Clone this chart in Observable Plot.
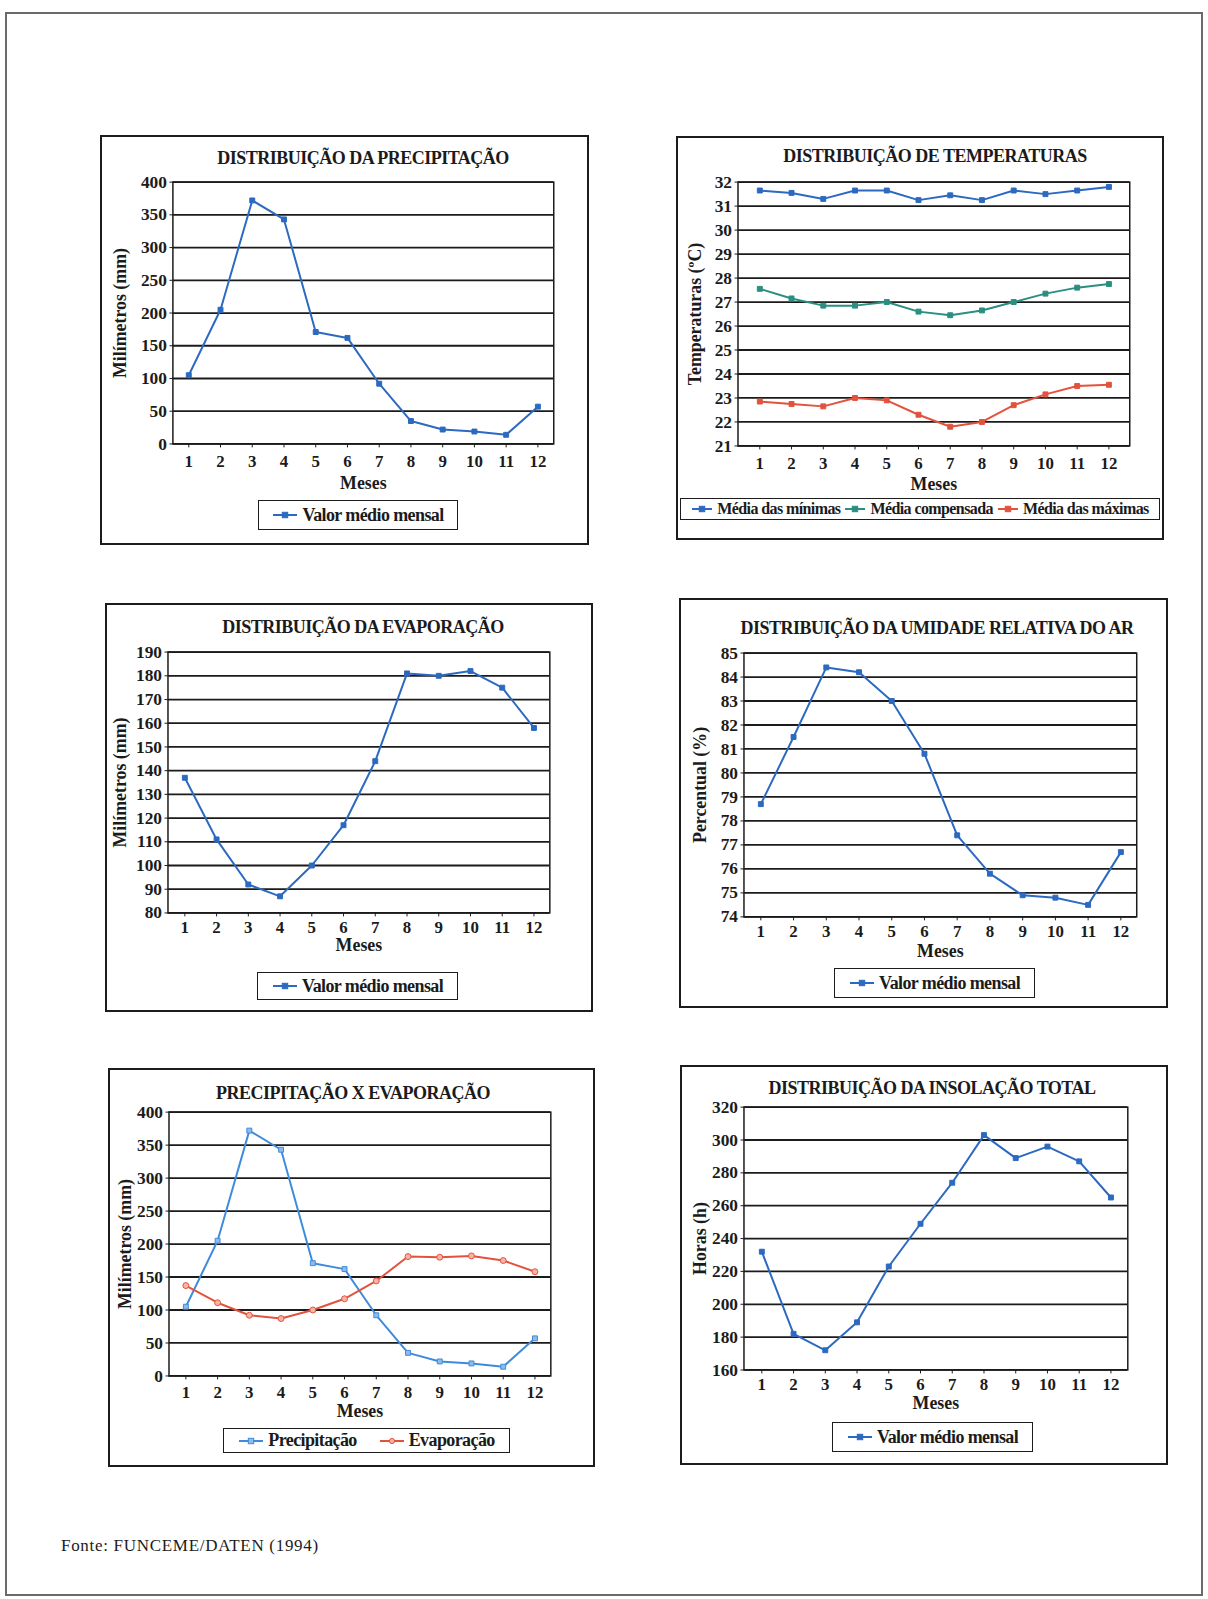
<!DOCTYPE html>
<html>
<head>
<meta charset="utf-8">
<script src="https://cdn.jsdelivr.net/npm/d3@7"></script>
<script src="https://cdn.jsdelivr.net/npm/@observablehq/plot@0.6"></script>
<style>
  body { margin: 0; background: #fff; }
  #page { position: relative; width: 1208px; height: 1599px; overflow: hidden; font-family: "Liberation Serif", "DejaVu Serif", serif; color: #1b1b1b; }
  .pageframe { position: absolute; left: 5px; top: 12px; width: 1198px; height: 1584px; box-sizing: border-box; border: 2px solid #6a6a6a; }
  .box { position: absolute; box-sizing: border-box; border: 2px solid #1c1c1c; }
  .box svg { position: absolute; left: -2px; top: -2px; }
  .title { position: absolute; width: 600px; text-align: center; font-size: 18px; line-height: 18px; font-weight: bold; letter-spacing: -0.5px; white-space: nowrap; }
  .legend { position: absolute; box-sizing: border-box; border: 1.6px solid #1c1c1c; display: flex; align-items: center; justify-content: center; font-weight: bold; white-space: nowrap; }
  .legend .item { display: flex; align-items: center; }
  .legend svg { margin-right: 4px; }
  .fonte { position: absolute; left: 61px; top: 1536px; font-size: 17px; letter-spacing: 0.7px; }
</style>
</head>
<body>
<div id="page"><div class="pageframe"></div></div>
<script>
// Months on the x axis
const meses = [1, 2, 3, 4, 5, 6, 7, 8, 9, 10, 11, 12];

// Monthly means (FUNCEME/DATEN, 1994)
const precipitacao = [105, 205, 372, 343, 171, 162, 92, 35, 22, 19, 14, 57];          // mm
const evaporacao   = [137, 111, 92, 87, 100, 117, 144, 181, 180, 182, 175, 158];       // mm
const umidade      = [78.7, 81.5, 84.4, 84.2, 83.0, 80.8, 77.4, 75.8, 74.9, 74.8, 74.5, 76.7]; // %
const insolacao    = [232, 182, 172, 189, 223, 249, 274, 303, 289, 296, 287, 265];     // h
const tempMinimas    = [31.65, 31.55, 31.3, 31.65, 31.65, 31.25, 31.45, 31.25, 31.65, 31.5, 31.65, 31.8];
const tempCompensada = [27.55, 27.15, 26.85, 26.85, 27.0, 26.6, 26.45, 26.65, 27.0, 27.35, 27.6, 27.75];
const tempMaximas    = [22.85, 22.75, 22.65, 23.0, 22.9, 22.3, 21.8, 22.0, 22.7, 23.15, 23.5, 23.55];

// Y tick values per chart
const ticksMm   = [0, 50, 100, 150, 200, 250, 300, 350, 400];
const ticksTemp = [21, 22, 23, 24, 25, 26, 27, 28, 29, 30, 31, 32];
const ticksEvap = [80, 90, 100, 110, 120, 130, 140, 150, 160, 170, 180, 190];
const ticksUmid = [74, 75, 76, 77, 78, 79, 80, 81, 82, 83, 84, 85];
const ticksInso = [160, 180, 200, 220, 240, 260, 280, 300, 320];

const AZUL = "#2c69c0", AZUL_CLARO = "#3f8bdb", VERDE = "#2a8f80", VERMELHO = "#e2533d";

const page = document.getElementById("page");

function swatch(s, w) {
  const ns = "http://www.w3.org/2000/svg";
  const svg = document.createElementNS(ns, "svg");
  svg.setAttribute("width", w); svg.setAttribute("height", 10);
  const l = document.createElementNS(ns, "line");
  l.setAttribute("x1", 1); l.setAttribute("x2", w - 1); l.setAttribute("y1", 5); l.setAttribute("y2", 5);
  l.setAttribute("stroke", s.color); l.setAttribute("stroke-width", 2);
  svg.appendChild(l);
  let m;
  if (s.symbol === "circle") {
    m = document.createElementNS(ns, "circle");
    m.setAttribute("cx", w / 2); m.setAttribute("cy", 5); m.setAttribute("r", 2.6);
  } else {
    m = document.createElementNS(ns, "rect");
    m.setAttribute("x", w / 2 - 2.7); m.setAttribute("y", 2.3); m.setAttribute("width", 5.4); m.setAttribute("height", 5.4);
  }
  m.setAttribute("fill", s.fill || s.color); m.setAttribute("stroke", s.color); m.setAttribute("stroke-width", 1);
  svg.appendChild(m);
  return svg;
}

function chart(cfg) {
  const [bx0, by0, bx1, by1] = cfg.box;
  const [fl, ft, fr, fb] = cfg.frame;
  const W = bx1 - bx0, H = by1 - by0;

  const marks = [
    Plot.ruleY(cfg.ticks, {y: d => d, stroke: "#1b1b1b", strokeWidth: 1.8}),
    Plot.frame({stroke: "#1b1b1b", strokeWidth: 1.5}),
    Plot.axisY(cfg.ticks, {tickSize: 3, tickPadding: 3, fontSize: 17.5, fontWeight: "bold", letterSpacing: -0.3, label: null}),
    Plot.axisX(meses, {tickSize: 4, tickPadding: cfg.tickPad, fontSize: 17, fontWeight: "bold", label: null}),
    Plot.text([cfg.yLabel], {frameAnchor: "left", textAnchor: "middle", lineAnchor: "middle", rotate: -90,
      dx: -cfg.yLabelDx, fontSize: 18, fontWeight: "bold", letterSpacing: -0.4}),
    Plot.text(["Meses"], {frameAnchor: "bottom", textAnchor: "middle", lineAnchor: "middle", dy: cfg.mesesDy,
      fontSize: 18, fontWeight: "bold", letterSpacing: -0.6})
  ];
  for (const s of cfg.series) {
    marks.push(Plot.line(meses, {x: meses, y: s.values, stroke: s.color, strokeWidth: 2}));
    marks.push(Plot.dot(meses, {x: meses, y: s.values, symbol: s.symbol || "square", r: s.r || 2.8,
      fill: s.fill || s.color, stroke: s.color, strokeWidth: 1}));
  }

  const svg = Plot.plot({
    width: W, height: H,
    marginLeft: fl - bx0, marginTop: ft - by0, marginRight: bx1 - fr, marginBottom: by1 - fb,
    x: {type: "point", domain: meses, padding: 0.5},
    y: {domain: [cfg.ticks[0], cfg.ticks[cfg.ticks.length - 1]]},
    style: {background: "transparent", fontFamily: "Liberation Serif, serif", color: "#1b1b1b", overflow: "visible"},
    marks
  });

  const box = document.createElement("div");
  box.className = "box";
  Object.assign(box.style, {left: bx0 + "px", top: by0 + "px", width: W + "px", height: H + "px"});
  box.appendChild(svg);
  page.appendChild(box);

  const t = document.createElement("div");
  t.className = "title";
  t.textContent = cfg.title;
  Object.assign(t.style, {left: (cfg.titleAt[0] - 300) + "px", top: (cfg.titleAt[1] - 9) + "px"});
  page.appendChild(t);

  const [lx, ly, lw, lh] = cfg.legend;
  const lg = document.createElement("div");
  lg.className = "legend";
  Object.assign(lg.style, {left: lx + "px", top: ly + "px", width: lw + "px", height: lh + "px",
    fontSize: (cfg.legendFont || 18) + "px", gap: (cfg.legendGap || 16) + "px", letterSpacing: (cfg.legendSpacing ?? -0.6) + "px"});
  for (const s of cfg.series) {
    const it = document.createElement("div");
    it.className = "item";
    it.appendChild(swatch(s, cfg.swatchW || 26));
    const sp = document.createElement("span");
    sp.textContent = s.name;
    it.appendChild(sp);
    lg.appendChild(it);
  }
  page.appendChild(lg);
}

chart({
  title: "DISTRIBUIÇÃO DA PRECIPITAÇÃO", titleAt: [363, 158],
  box: [100, 135, 589, 545], frame: [173, 182, 557, 446],
  ticks: ticksMm, yLabel: "Milímetros (mm)", yLabelDx: 53, mesesDy: 40, tickPad: 7,
  legend: [258, 500, 200, 30],
  series: [{name: "Valor médio mensal", values: precipitacao, color: AZUL}]
});

chart({
  title: "DISTRIBUIÇÃO DE TEMPERATURAS", titleAt: [935, 156],
  box: [676, 136, 1164, 540], frame: [738, 182, 1133, 448],
  ticks: ticksTemp, yLabel: "Temperaturas (ºC)", yLabelDx: 43, mesesDy: 39, tickPad: 7,
  legend: [680, 498, 480, 22], legendFont: 16, legendGap: 4, legendSpacing: -0.6, swatchW: 22,
  series: [
    {name: "Média das mínimas", values: tempMinimas, color: AZUL},
    {name: "Média compensada", values: tempCompensada, color: VERDE},
    {name: "Média das máximas", values: tempMaximas, color: VERMELHO}
  ]
});

chart({
  title: "DISTRIBUIÇÃO DA EVAPORAÇÃO", titleAt: [363, 627],
  box: [105, 603, 593, 1012], frame: [168, 652, 553, 915],
  ticks: ticksEvap, yLabel: "Milímetros (mm)", yLabelDx: 48, mesesDy: 33, tickPad: 4,
  legend: [257, 972, 201, 28],
  series: [{name: "Valor médio mensal", values: evaporacao, color: AZUL}]
});

chart({
  title: "DISTRIBUIÇÃO DA UMIDADE RELATIVA DO AR", titleAt: [937, 628],
  box: [679, 598, 1168, 1008], frame: [744, 653, 1140, 919],
  ticks: ticksUmid, yLabel: "Percentual (%)", yLabelDx: 44, mesesDy: 35, tickPad: 4,
  legend: [834, 968, 201, 30],
  series: [{name: "Valor médio mensal", values: umidade, color: AZUL}]
});

chart({
  title: "PRECIPITAÇÃO X EVAPORAÇÃO", titleAt: [353, 1093],
  box: [108, 1068, 595, 1467], frame: [169, 1112, 554, 1378],
  ticks: ticksMm, yLabel: "Milímetros (mm)", yLabelDx: 44, mesesDy: 36, tickPad: 6,
  legend: [223, 1428, 287, 25], legendGap: 22,
  series: [
    {name: "Precipitação", values: precipitacao, color: AZUL_CLARO, fill: "#8dbbea"},
    {name: "Evaporação", values: evaporacao, color: VERMELHO, symbol: "circle", fill: "#f6b3a6", r: 3}
  ]
});

chart({
  title: "DISTRIBUIÇÃO DA INSOLAÇÃO TOTAL", titleAt: [932, 1088],
  box: [680, 1065, 1168, 1465], frame: [744, 1107, 1131, 1372],
  ticks: ticksInso, yLabel: "Horas (h)", yLabelDx: 44, mesesDy: 34, tickPad: 4,
  legend: [832, 1422, 201, 30],
  series: [{name: "Valor médio mensal", values: insolacao, color: AZUL}]
});

const fonte = document.createElement("div");
fonte.className = "fonte";
fonte.textContent = "Fonte: FUNCEME/DATEN (1994)";
page.appendChild(fonte);
</script>
</body>
</html>
